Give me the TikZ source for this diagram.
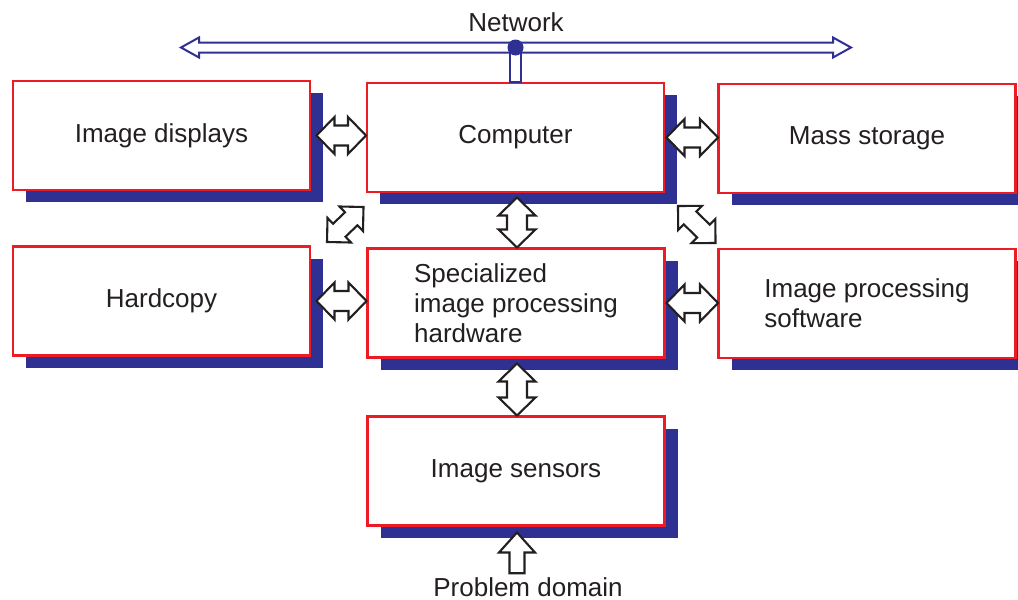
\documentclass[tikz,border=0pt]{standalone}
\usepackage{fontspec}
\setmainfont{Liberation Sans}
\usetikzlibrary{calc,shadows}
\definecolor{boxred}{HTML}{ED1C24}
\definecolor{shblue}{HTML}{2E3192}
\definecolor{txtgray}{HTML}{231F20}
% double-headed block arrow: #1 style, #2 tip A, #3 tip B, #4 head length, #5 head half width, #6 shaft half width
\newcommand\blkdbl[6]{%
  \path ($(#2)!#4!(#3)$) coordinate (hA) ($(#3)!#4!(#2)$) coordinate (hB);
  \draw[#1] (#2) -- ($(hA)!#5!90:(#3)$) -- ($(hA)!#6!90:(#3)$) -- ($(hB)!#6!-90:(#2)$)
    -- ($(hB)!#5!-90:(#2)$) -- (#3) -- ($(hB)!#5!90:(#2)$) -- ($(hB)!#6!90:(#2)$)
    -- ($(hA)!#6!-90:(#3)$) -- ($(hA)!#5!-90:(#3)$) -- cycle;}
% single block arrow: #1 style, #2 base, #3 tip, #4 head length, #5 head half width, #6 shaft half width
\newcommand\blksgl[6]{%
  \path ($(#3)!#4!(#2)$) coordinate (hS);
  \draw[#1] (#3) -- ($(hS)!#5!90:(#2)$) -- ($(hS)!#6!90:(#2)$) -- ($(#2)!#6!-90:(#3)$)
    -- ($(#2)!#6!90:(#3)$) -- ($(hS)!#6!-90:(#2)$) -- ($(hS)!#5!-90:(#2)$) -- cycle;}
\begin{document}
\begin{tikzpicture}[x=1pt,y=-1pt,
  box/.style={draw=boxred, line width=2.4pt, fill=white, minimum width=297pt,
    minimum height=109pt, inner sep=0pt, outer sep=0pt, align=left, text=txtgray,
    font=\fontsize{26}{30}\selectfont,
    general shadow={fill=shblue, shadow xshift=13pt, shadow yshift=-12pt}},
  blockarrow/.style={draw=txtgray, line width=2.1pt, fill=white},
  netarrow/.style={draw=shblue, line width=2pt, fill=white},
  lbl/.style={text=txtgray, font=\fontsize{26}{30}\selectfont, inner sep=0pt}]
\useasboundingbox (0,0) rectangle (1018,600);

% boxes
\node[box] (disp) at (161.5,135.5) {Image displays};
\node[box] (comp) at (515.5,137.5) {Computer};
\node[box] (mass) at (867,138.5) {Mass storage};
\node[box] (hard) at (161.5,301) {Hardcopy};
\node[box] (spec) at (516,303) {Specialized\\image processing\\hardware};
\node[box] (soft) at (867,303.5) {Image processing\\software};
\node[box] (sens) at (516,471) {Image sensors};

% labels
\node[lbl] (net) at (516,22) {Network};
\node[lbl] (pd) at (528,587) {Problem domain};

% network bus
\coordinate (n1) at (181,47.5);
\coordinate (n2) at (851,47.5);
\coordinate (nd) at (comp.north |- n1);
\blkdbl{netarrow}{n1}{n2}{18pt}{10pt}{5pt}
\draw[netarrow] ($(nd)+(-5.5,0)$) rectangle ($(comp.north)+(5.5,-1.2)$);
\fill[shblue] (nd) circle (8pt);

% connectors
\coordinate (a1) at ($(disp.east)+(6.5,0)$);
\coordinate (a2) at ($(comp.west |- a1)+(-1,0)$);
\blkdbl{blockarrow}{a1}{a2}{18pt}{18.5pt}{10pt}

\coordinate (b1) at ($(comp.east)+(2.5,0)$);
\coordinate (b2) at ($(mass.west |- b1)+(-0.5,0)$);
\blkdbl{blockarrow}{b1}{b2}{18pt}{18.5pt}{10pt}

\coordinate (c2) at ($(spec.north)+(1,-1)$);
\coordinate (c1) at ($(c2 |- comp.south)+(0,5.5)$);
\blkdbl{blockarrow}{c1}{c2}{18pt}{18.5pt}{10pt}

\coordinate (d1) at ($(spec.south)+(1,6)$);
\coordinate (d2) at ($(sens.north)+(1,-1)$);
\blkdbl{blockarrow}{d1}{d2}{18pt}{18.5pt}{10pt}

\coordinate (e1) at ($(hard.east)+(6.5,0)$);
\coordinate (e2) at ($(spec.west |- e1)+(-1,0)$);
\blkdbl{blockarrow}{e1}{e2}{18pt}{18.5pt}{10pt}

\coordinate (f1) at ($(spec.east)+(2,0)$);
\coordinate (f2) at ($(soft.west |- f1)+(-0.5,0)$);
\blkdbl{blockarrow}{f1}{f2}{18pt}{18.5pt}{10pt}

\coordinate (g1) at ($(hard.north east)+(17,-4.5)$);
\coordinate (g2) at ($(comp.south west)+(-3.5,15)$);
\blkdbl{blockarrow}{g1}{g2}{17pt}{17pt}{9pt}

\coordinate (h1) at ($(comp.south east)+(14,14)$);
\coordinate (h2) at ($(soft.north west)+(-3,-6)$);
\blkdbl{blockarrow}{h1}{h2}{17pt}{17pt}{9pt}

\coordinate (p2) at ($(sens.south)+(1,7)$);
\coordinate (p1) at ($(p2 |- pd.north)+(0,-4)$);
\blksgl{blockarrow}{p1}{p2}{20pt}{18pt}{7.5pt}
\end{tikzpicture}
\end{document}
